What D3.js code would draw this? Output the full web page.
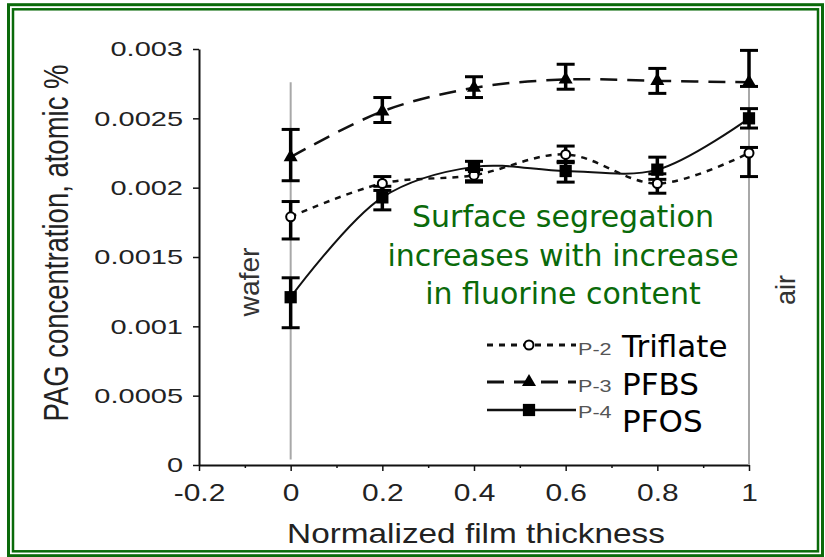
<!DOCTYPE html>
<html>
<head>
<meta charset="utf-8">
<script src="https://cdn.jsdelivr.net/npm/d3@7"></script>
<style>
  body { margin: 0; background: #fff; }
  svg { display: block; }
  .axis text { font-family: "Liberation Sans", Arial, sans-serif; fill: #222; }
  .axis path, .axis line { stroke: #111; }
</style>
</head>
<body>
<div id="chart"></div>
<script>
// normalized film thickness positions
var thickness = [0, 0.2, 0.4, 0.6, 0.8, 1];

// P-2 Triflate
var p2 = [0.00179, 0.00203, 0.00209, 0.00224, 0.00203, 0.00225];
var p2Lo = [0.00163, 0.00198, 0.00204, 0.00218, 0.00196, 0.00208];
var p2Hi = [0.00190, 0.00208, 0.00213, 0.00230, 0.00210, 0.00229];

// P-3 PFBS
var p3 = [0.00222, 0.00255, 0.00272, 0.00278, 0.00277, 0.00276];
var p3Lo = [0.00205, 0.00247, 0.00265, 0.00271, 0.00268, 0.00273];
var p3Hi = [0.00242, 0.00265, 0.00280, 0.00289, 0.00286, 0.00299];

// P-4 PFOS
var p4 = [0.00121, 0.00193, 0.00215, 0.00212, 0.00213, 0.00250];
var p4Lo = [0.00099, 0.00184, 0.00205, 0.00204, 0.00206, 0.00243];
var p4Hi = [0.00135, 0.00201, 0.00219, 0.00219, 0.00222, 0.00257];

var xTicks = [-0.2, 0, 0.2, 0.4, 0.6, 0.8, 1];
var xMinorTicks = [-0.1, 0.1, 0.3, 0.5, 0.7, 0.9];
var yTicks = [0, 0.0005, 0.001, 0.0015, 0.002, 0.0025, 0.003];

var legendKeys = ["P-2", "P-3", "P-4"];
var legendNames = ["Triflate", "PFBS", "PFOS"];
var noteLines = ["Surface segregation", "increases with increase", "in fluorine content"];

var W = 825, H = 557;
var green = "#0a6a0a";

var svg = d3.select("#chart").append("svg")
    .attr("width", W)
    .attr("height", H);

svg.append("rect").attr("width", W).attr("height", H).attr("fill", "#fff");

// double green frame
svg.append("rect")
    .attr("x", 8.5).attr("y", 4.7)
    .attr("width", 814).attr("height", 551)
    .attr("fill", "none").attr("stroke", green).attr("stroke-width", 3);
svg.append("rect")
    .attr("x", 13).attr("y", 9.3)
    .attr("width", 805).attr("height", 542)
    .attr("fill", "none").attr("stroke", green).attr("stroke-width", 2.5);

// scales
var x = d3.scaleLinear().domain([-0.2, 1]).range([199, 749]);
var y = d3.scaleLinear().domain([0, 0.003]).range([465, 49]);

// stretch text horizontally like the scanned figure
function stretch(sel, k) {
  sel.each(function() {
    var w = this.getComputedTextLength();
    d3.select(this)
      .attr("textLength", w * k)
      .attr("lengthAdjust", "spacingAndGlyphs");
  });
}

// y axis
var yAxis = svg.append("g")
    .attr("class", "axis")
    .attr("transform", "translate(" + x(-0.2) + ",0)")
    .call(d3.axisLeft(y)
      .tickValues(yTicks)
      .tickSize(6)
      .tickSizeOuter(0)
      .tickPadding(10)
      .tickFormat(function(d) { return String(d); }));
yAxis.select(".domain").attr("stroke-width", 2);
yAxis.selectAll(".tick line").attr("stroke-width", 1.5);
yAxis.selectAll("text").style("font-size", "21px");
stretch(yAxis.selectAll("text"), 1.38);

// x axis, minor ticks first
var xMinor = svg.append("g")
    .attr("class", "axis")
    .attr("transform", "translate(0," + y(0) + ")")
    .call(d3.axisBottom(x).tickValues(xMinorTicks).tickSize(3).tickSizeOuter(0).tickFormat(""));
xMinor.select(".domain").remove();
xMinor.selectAll(".tick line").attr("stroke-width", 1.5);

var xAxis = svg.append("g")
    .attr("class", "axis")
    .attr("transform", "translate(0," + y(0) + ")")
    .call(d3.axisBottom(x)
      .tickValues(xTicks)
      .tickSize(6)
      .tickSizeOuter(0)
      .tickPadding(14)
      .tickFormat(function(d) { return String(d); }));
xAxis.select(".domain").attr("stroke", "#444").attr("stroke-width", 2);
xAxis.selectAll(".tick line").attr("stroke-width", 1.5);
xAxis.selectAll("text").style("font-size", "23px");
stretch(xAxis.selectAll("text"), 1.3);

// axis titles
var xTitle = svg.append("text")
    .attr("x", 476).attr("y", 543)
    .attr("text-anchor", "middle")
    .style("font-family", "Liberation Sans, Arial, sans-serif")
    .style("font-size", "28px")
    .attr("fill", "#222")
    .text("Normalized film thickness");
stretch(xTitle, 1.19);

// rotated title, glyphs widened across the text direction
svg.append("text")
    .attr("transform", "translate(68,243) rotate(-90) scale(1,1.3)")
    .attr("text-anchor", "middle")
    .style("font-family", "Liberation Sans, Arial, sans-serif")
    .style("font-size", "27.5px")
    .attr("fill", "#222")
    .text("PAG concentration, atomic %");

// wafer / air reference lines
svg.append("line")
    .attr("x1", x(0)).attr("x2", x(0))
    .attr("y1", y(0.00276)).attr("y2", y(0.00004))
    .attr("stroke", "#a8a8a8").attr("stroke-width", 2);
svg.append("line")
    .attr("x1", x(1)).attr("x2", x(1))
    .attr("y1", y(0.00276)).attr("y2", y(0))
    .attr("stroke", "#a8a8a8").attr("stroke-width", 2);

svg.append("text")
    .attr("transform", "translate(259,282) rotate(-90)")
    .attr("text-anchor", "middle")
    .style("font-family", "Liberation Sans, Arial, sans-serif")
    .style("font-size", "27px")
    .attr("fill", "#333")
    .attr("textLength", 69).attr("lengthAdjust", "spacingAndGlyphs")
    .text("wafer");
svg.append("text")
    .attr("transform", "translate(795,290) rotate(-90)")
    .attr("text-anchor", "middle")
    .style("font-family", "Liberation Sans, Arial, sans-serif")
    .style("font-size", "27px")
    .attr("fill", "#333")
    .attr("textLength", 30).attr("lengthAdjust", "spacingAndGlyphs")
    .text("air");

// series
var series = [
  {key: "P-2", vals: p2, lo: p2Lo, hi: p2Hi, dash: "6,6", width: 2.5, marker: "circle"},
  {key: "P-3", vals: p3, lo: p3Lo, hi: p3Hi, dash: "17,10", width: 2.5, marker: "triangle"},
  {key: "P-4", vals: p4, lo: p4Lo, hi: p4Hi, dash: null, width: 2, marker: "square"}
];

var line = d3.line()
    .x(function(d, i) { return x(thickness[i]); })
    .y(function(d) { return y(d); })
    .curve(d3.curveCatmullRom.alpha(0.5));

series.forEach(function(s) {
  svg.append("path")
      .datum(s.vals)
      .attr("fill", "none")
      .attr("stroke", "#111")
      .attr("stroke-width", s.width)
      .attr("stroke-dasharray", s.dash)
      .attr("d", line);
});

// error bars
series.forEach(function(s) {
  var g = svg.append("g").attr("class", "err");
  s.vals.forEach(function(v, i) {
    var cx = x(thickness[i]);
    g.append("line")
        .attr("x1", cx).attr("x2", cx)
        .attr("y1", y(s.lo[i])).attr("y2", y(s.hi[i]))
        .attr("stroke", "#000").attr("stroke-width", 3.5);
    [s.lo[i], s.hi[i]].forEach(function(e) {
      g.append("line")
          .attr("x1", cx - 9).attr("x2", cx + 9)
          .attr("y1", y(e)).attr("y2", y(e))
          .attr("stroke", "#000").attr("stroke-width", 3);
    });
  });
});

function drawMarker(g, type, cx, cy) {
  if (type === "circle") {
    g.append("circle")
        .attr("cx", cx).attr("cy", cy).attr("r", 4.5)
        .attr("fill", "#fff").attr("stroke", "#000").attr("stroke-width", 2);
  } else {
    var sym = type === "triangle" ? d3.symbolTriangle : d3.symbolSquare;
    var size = type === "triangle" ? 85 : 150;
    g.append("path")
        .attr("transform", "translate(" + cx + "," + cy + ")")
        .attr("d", d3.symbol().type(sym).size(size)())
        .attr("fill", "#000");
  }
}

series.forEach(function(s) {
  var g = svg.append("g");
  s.vals.forEach(function(v, i) {
    drawMarker(g, s.marker, x(thickness[i]), y(v));
  });
});

// annotation
var note = svg.append("g");
noteLines.forEach(function(t, i) {
  note.append("text")
      .attr("x", 563).attr("y", 227 + i * 38.5)
      .attr("text-anchor", "middle")
      .style("font-family", "DejaVu Sans, sans-serif")
      .style("font-size", "30px")
      .attr("fill", green)
      .text(t);
});

// legend
var legendLineY = [345, 382, 410];
var legendTextY = [357, 395, 432];
var legend = svg.append("g");
series.forEach(function(s, i) {
  var ly = legendLineY[i];
  legend.append("line")
      .attr("x1", 487).attr("x2", 576)
      .attr("y1", ly).attr("y2", ly)
      .attr("stroke", "#111")
      .attr("stroke-width", s.width + 0.5)
      .attr("stroke-dasharray", s.dash);
  drawMarker(legend, s.marker, 529, ly);
  var k = legend.append("text")
      .attr("x", 578).attr("y", ly + (i === 2 ? 8 : 10))
      .style("font-family", "Liberation Sans, Arial, sans-serif")
      .style("font-size", "16px")
      .attr("fill", "#555")
      .text(legendKeys[i]);
  stretch(k, 1.35);
  legend.append("text")
      .attr("x", 622).attr("y", legendTextY[i])
      .style("font-family", "DejaVu Sans, sans-serif")
      .style("font-size", "31px")
      .attr("fill", "#000")
      .text(legendNames[i]);
});
</script>
</body>
</html>
